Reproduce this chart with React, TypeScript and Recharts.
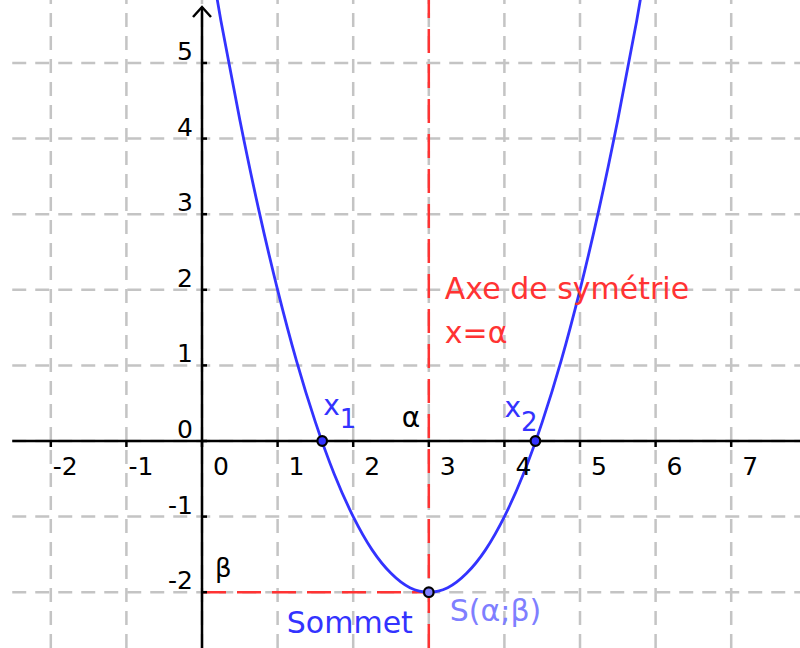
import React from "react";
import {
  ComposedChart, Line, XAxis, YAxis, ReferenceLine, ReferenceDot,
} from "recharts";

// parabola (vertex S(3;-2), roots near 1.59 and 4.41)
const curveX = [0, 0.25, 0.5, 0.75, 1, 1.25, 1.5, 1.75, 2, 2.25, 2.5, 2.75, 3,
  3.25, 3.5, 3.75, 4, 4.25, 4.5, 4.75, 5, 5.25, 5.5, 5.75, 6];
const curveY = [7, 5.56, 4.25, 3.06, 2, 1.06, 0.25, -0.44, -1, -1.44, -1.75, -1.94, -2,
  -1.94, -1.75, -1.44, -1, -0.44, 0.25, 1.06, 2, 3.06, 4.25, 5.56, 7];

const xTicks = [-2, -1, 0, 1, 2, 3, 4, 5, 6, 7];
const yTicks = [-2, -1, 0, 1, 2, 3, 4, 5];
const roots = [1.59, 4.41];
const alpha = 3;
const beta = -2;

const X_DOMAIN: [number, number] = [-2.672, 7.91];
const Y_DOMAIN: [number, number] = [-2.738, 5.833];
const AXIS_START = -2.51;
const AXIS_TOP = 5.74;

const BLUE = "#3333ff";
const RED = "#ff3333";
const LIGHT = "#7f7fff";
const GRID = "#c4c4c4";
const FONT = "DejaVu Sans";

const data = curveX.map((x, i) => ({ x, y: curveY[i] }));

const XTick = ({ cx, cy, t }: any) => (
  <g>
    <line x1={cx} y1={cy - 1} x2={cx} y2={cy + 6} stroke="#000" strokeWidth={2.5} />
    <text x={cx + 11 - (t < 0 ? 9 : 0)} y={cy + 34} fontSize={25} fontFamily={FONT} fill="#000">
      {t}
    </text>
  </g>
);

const YTick = ({ cx, cy, t }: any) => (
  <g>
    <line x1={cx - 1} y1={cy} x2={cx + 5} y2={cy} stroke="#000" strokeWidth={2.5} />
    <text x={cx - 9} y={cy - 3} fontSize={25} fontFamily={FONT} fill="#000" textAnchor="end">
      {t}
    </text>
  </g>
);

const Arrow = ({ cx, cy }: any) => (
  <polyline
    points={`${cx - 9},${cy + 10} ${cx},${cy} ${cx + 9},${cy + 10}`}
    fill="none" stroke="#000" strokeWidth={2.5}
  />
);

const Txt = ({ x, y, children, fill = "#000", size = 30 }: any) => (
  <text x={x} y={y} fontSize={size} fontFamily={FONT} fill={fill}>{children}</text>
);

export default function App() {
  return (
    <div style={{ position: "absolute", left: 0, top: 0, background: "#fff" }}>
      <ComposedChart width={800} height={648} data={data}
        margin={{ top: 0, right: 0, bottom: 0, left: 0 }}>
        <XAxis type="number" dataKey="x" domain={X_DOMAIN} allowDataOverflow hide />
        <YAxis type="number" domain={Y_DOMAIN} allowDataOverflow hide />

        {xTicks.map((t) => (
          <ReferenceLine key={"gx" + t} x={t} stroke={GRID} strokeWidth={2.5}
            strokeDasharray="14 9" ifOverflow="hidden" />
        ))}
        {yTicks.map((t) => (
          <ReferenceLine key={"gy" + t} segment={[{ x: AXIS_START, y: t }, { x: X_DOMAIN[1], y: t }]}
            stroke={GRID} strokeWidth={2.5} strokeDasharray="14 9" ifOverflow="hidden" />
        ))}

        <ReferenceLine x={alpha} stroke={RED} strokeWidth={2.5} strokeDasharray="24 11" ifOverflow="hidden" />
        <ReferenceLine segment={[{ x: 0, y: beta }, { x: alpha, y: beta }]}
          stroke={RED} strokeWidth={2.5} strokeDasharray="24 11" ifOverflow="hidden" />

        <ReferenceLine segment={[{ x: AXIS_START, y: 0 }, { x: X_DOMAIN[1], y: 0 }]}
          stroke="#000" strokeWidth={2.5} ifOverflow="hidden" />
        <ReferenceLine segment={[{ x: 0, y: Y_DOMAIN[0] }, { x: 0, y: AXIS_TOP }]}
          stroke="#000" strokeWidth={2.5} ifOverflow="hidden" />
        <ReferenceDot x={0} y={AXIS_TOP} r={1} shape={(p: any) => <Arrow {...p} />} />

        {xTicks.map((t) => (
          <ReferenceDot key={"tx" + t} x={t} y={0} r={1}
            shape={(p: any) => <XTick {...p} t={t} />} />
        ))}
        {yTicks.map((t) => (
          <ReferenceDot key={"ty" + t} x={0} y={t} r={1}
            shape={(p: any) => <YTick {...p} t={t} />} />
        ))}

        <Line type="monotone" dataKey="y" stroke={BLUE} strokeWidth={2.8} dot={false}
          activeDot={false} isAnimationActive={false} />

        {/* annotations */}
        <ReferenceDot x={alpha} y={2} r={1} shape={(p: any) => (
          <g>
            <Txt x={p.cx + 16} y={p.cy + 9} fill={RED}>Axe de symétrie</Txt>
            <Txt x={p.cx + 16} y={p.cy + 53} fill={RED}>x=α</Txt>
          </g>
        )} />
        <ReferenceDot x={alpha} y={0} r={1} shape={(p: any) => (
          <Txt x={p.cx - 27} y={p.cy - 14} size={28}>α</Txt>
        )} />
        <ReferenceDot x={0} y={beta} r={1} shape={(p: any) => (
          <Txt x={p.cx + 13} y={p.cy - 15} size={26}>β</Txt>
        )} />

        {roots.map((r, i) => (
          <ReferenceDot key={"r" + i} x={r} y={0} r={4.8} fill={BLUE} stroke="#000" strokeWidth={2.2} />
        ))}
        <ReferenceDot x={roots[0]} y={0} r={1} shape={(p: any) => (
          <text x={p.cx + 1} y={p.cy - 26} fontSize={28} fontFamily={FONT} fill={BLUE}>
            x<tspan dy={13} fontSize={26}>1</tspan>
          </text>
        )} />
        <ReferenceDot x={roots[1]} y={0} r={1} shape={(p: any) => (
          <text x={p.cx - 31} y={p.cy - 24} fontSize={28} fontFamily={FONT} fill={BLUE}>
            x<tspan dy={14} fontSize={26}>2</tspan>
          </text>
        )} />

        <ReferenceDot x={alpha} y={beta} r={4.8} fill={LIGHT} stroke="#000" strokeWidth={2.2} />
        <ReferenceDot x={alpha} y={beta} r={1} shape={(p: any) => (
          <g>
            <Txt x={p.cx - 142} y={p.cy + 41} fill={BLUE}>Sommet</Txt>
            <Txt x={p.cx + 21} y={p.cy + 29} fill={LIGHT}>S(α;β)</Txt>
          </g>
        )} />
      </ComposedChart>
    </div>
  );
}
